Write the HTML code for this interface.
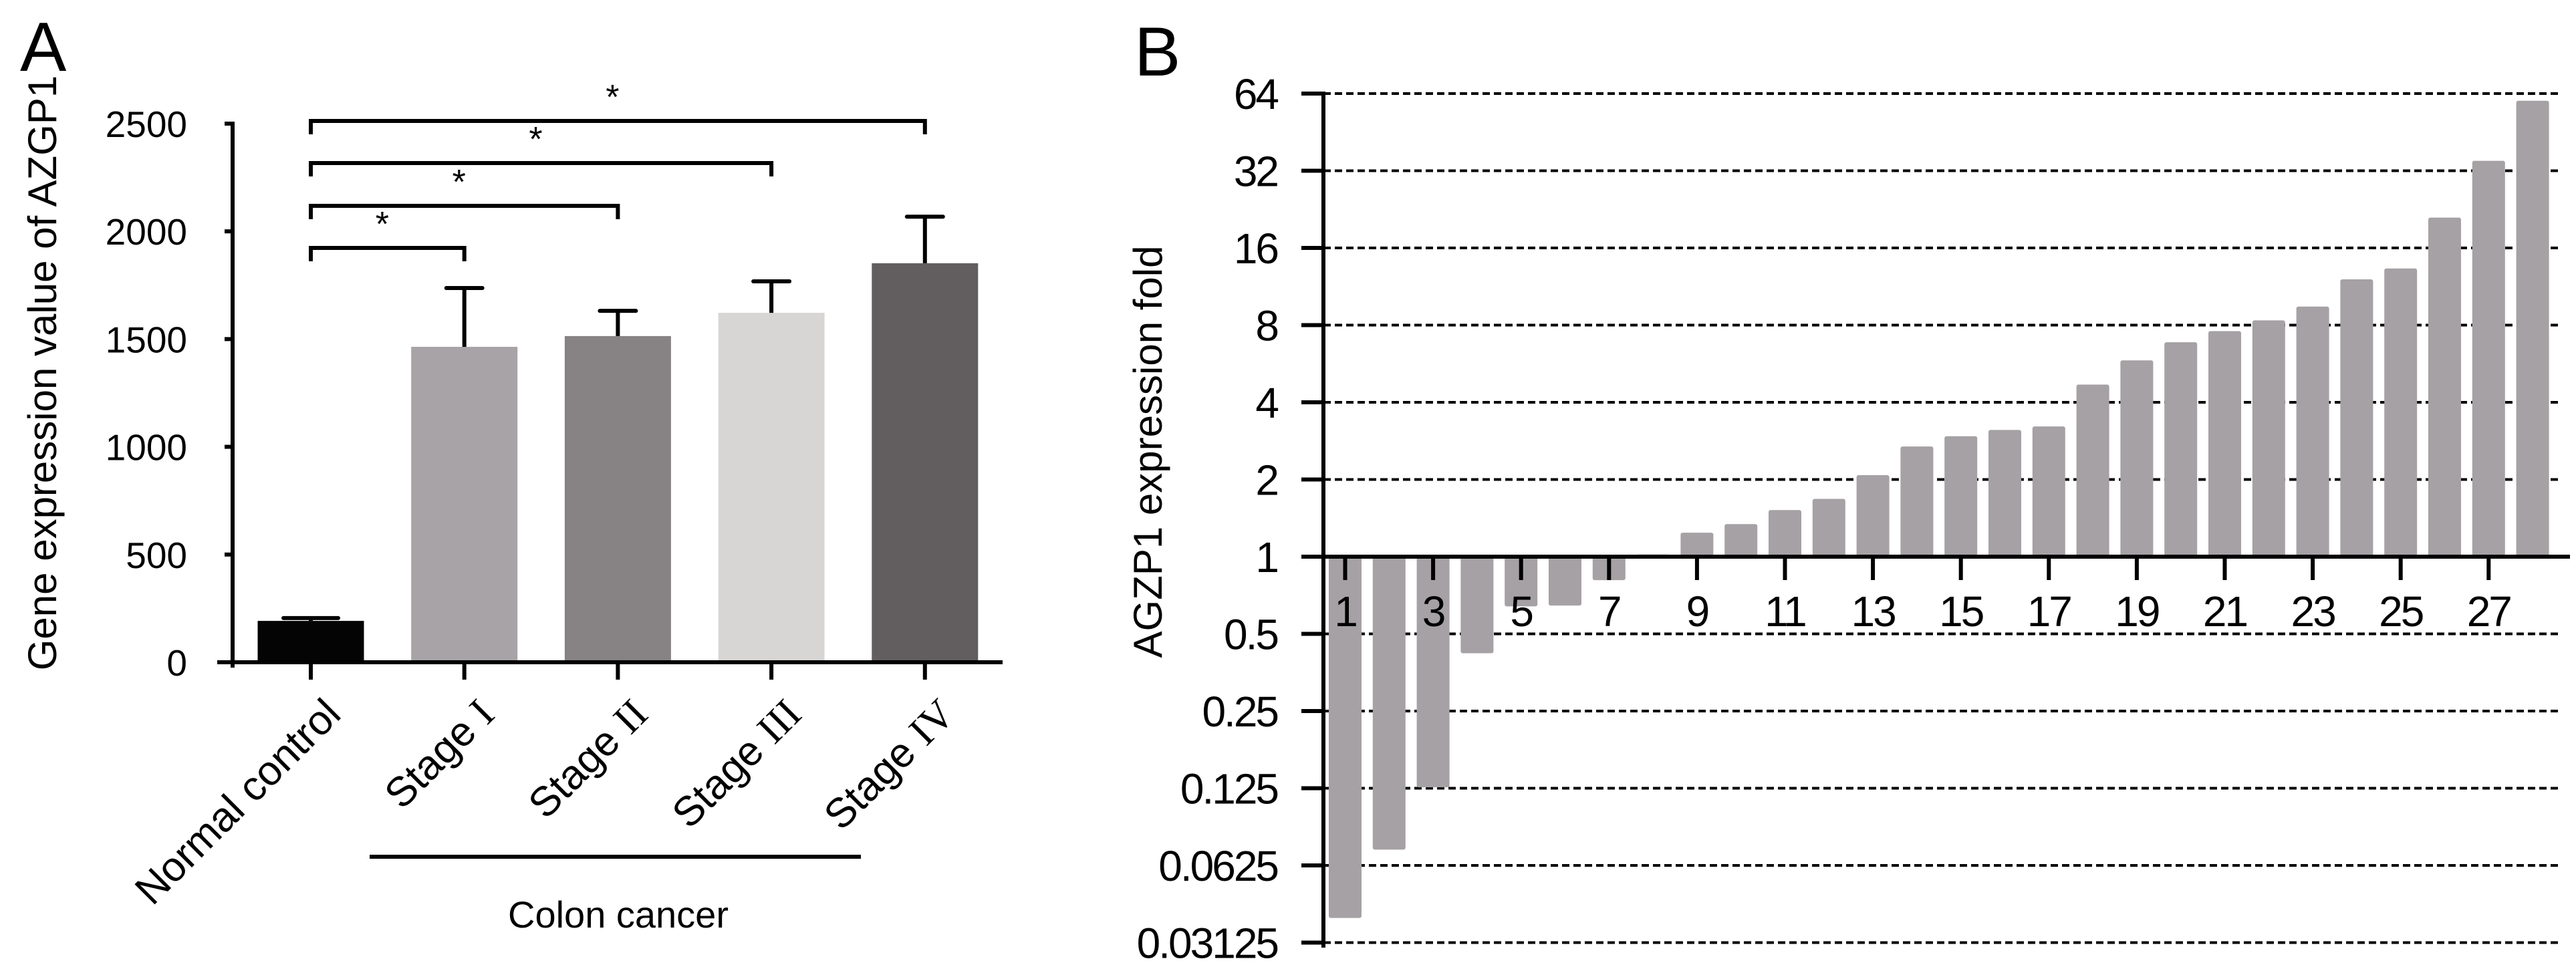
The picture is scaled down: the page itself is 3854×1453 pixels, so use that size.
<!DOCTYPE html>
<html><head><meta charset="utf-8"><style>
html,body{margin:0;padding:0;background:#fff;}
svg{display:block;font-family:"Liberation Sans",sans-serif;}
</style></head><body>
<svg id="fig" width="3854" height="1453" viewBox="0 0 3854 1453" xmlns="http://www.w3.org/2000/svg">
<text x="30" y="106" font-size="104">A</text>
<text x="1697" y="113" font-size="104">B</text>
<g id="pa"></g>
<g id="pb"></g>
</svg>
<script>
// ---------- Panel A data ----------
const catsA = ["Normal control", "Stage I", "Stage II", "Stage III", "Stage IV"];
const meanA = [192, 1464, 1514, 1622, 1852];
const errA = [205, 1737, 1631, 1768, 2068];
const colorsA = ["#050405", "#a8a3a7", "#878284", "#d8d5d5", "#625e60"];
const ticksA = [0, 500, 1000, 1500, 2000, 2500];
const tickLabelsA = ["0", "500", "1000", "1500", "2000", "2500"];
const romanA = ["", "I", "II", "III", "IV"];
const sigPairsA = [[0,1],[0,2],[0,3],[0,4]];
// ---------- Panel B data ----------
const samplesB = [1,2,3,4,5,6,7,8,9,10,11,12,13,14,15,16,17,18,19,20,21,22,23,24,25,26,27,28];
const foldB = [0.039,0.072,0.126,0.42,0.64,0.645,0.81,1.02,1.24,1.34,1.52,1.68,2.08,2.69,2.95,3.12,3.22,4.69,5.83,6.86,7.58,8.35,9.45,12.07,13.3,21,35,60];
const ticksB = [0.03125,0.0625,0.125,0.25,0.5,1,2,4,8,16,32,64];
const tickLabelsB = ["0.03125","0.0625","0.125","0.25","0.5","1","2","4","8","16","32","64"];

const NS = "http://www.w3.org/2000/svg";
function mk(parent, tag, attrs, txt){
  const e = document.createElementNS(NS, tag);
  for (const k in attrs) e.setAttribute(k, attrs[k]);
  if (txt !== undefined) e.textContent = txt;
  parent.appendChild(e);
  return e;
}

// ===== Panel A =====
(function(){
  const g = document.getElementById('pa');
  const y0 = 991, y2500 = 185, axX = 348;
  const yA = v => y0 - (v/2500)*(y0 - y2500);
  const xA = i => 465 + i*229.7;
  const bw = 159;
  catsA.forEach((c,i)=>{
    const r = mk(g,'rect',{x:xA(i)-bw/2, y:yA(meanA[i]), width:bw, height:y0-yA(meanA[i]), fill:colorsA[i]});
    
    
    const hw = i===0 ? 41 : 27;
    const e1 = mk(g,'line',{x1:xA(i), x2:xA(i), y1:yA(meanA[i]), y2:yA(errA[i]), stroke:'#000','stroke-width':6});
    
    
    const e2 = mk(g,'line',{x1:xA(i)-hw, x2:xA(i)+hw, y1:yA(errA[i]), y2:yA(errA[i]), stroke:'#000','stroke-width':6,'stroke-linecap':'round'});
    
    
    const t = mk(g,'line',{x1:xA(i), x2:xA(i), y1:y0, y2:1017, stroke:'#000','stroke-width':6});
    
    
    const lx = xA(i)+48, ly = 1072;
    const tx = mk(g,'text',{x:lx, y:ly, 'font-size':62, 'text-anchor':'end', transform:`rotate(-45 ${lx} ${ly})`});
    
    
    if (i===0) { tx.textContent = c; }
    else {
      mk(tx,'tspan',{}, 'Stage ');
      mk(tx,'tspan',{'font-family':'"Liberation Serif", serif'}, romanA[i]);
    }
  });
  const ya = mk(g,'line',{x1:axX, x2:axX, y1:y2500-3, y2:y0+8, stroke:'#000','stroke-width':6});
  
  
  const xa = mk(g,'line',{x1:325, x2:1500, y1:y0, y2:y0, stroke:'#000','stroke-width':6});
  
  
  ticksA.forEach((v,i)=>{
    const tl = mk(g,'line',{x1:axX-12, x2:axX, y1:yA(v), y2:yA(v), stroke:'#000','stroke-width':6});
    
    
    const tt = mk(g,'text',{x:280, y:yA(v)+20, 'font-size':55, 'text-anchor':'end'}, tickLabelsA[i]);
    
    
  });
  const bY = [371, 308, 244, 181];
  sigPairsA.forEach((p,k)=>{
    const x1 = xA(p[0]), x2 = xA(p[1]), yb = bY[k];
    const b = mk(g,'path',{d:`M${x1} ${yb+20} V${yb} H${x2} V${yb+20}`, fill:'none', stroke:'#000','stroke-width':6});
    
    
    const s = mk(g,'text',{x:(x1+x2)/2-8, y:yb-18, 'font-size':52, 'text-anchor':'middle'}, '*');
    
    
  });
  const yt = mk(g,'text',{x:0, y:0, 'font-size':60, 'text-anchor':'middle', transform:'translate(84 558) rotate(-90)'}, 'Gene expression value of AZGP1');
  
  
  const gl = mk(g,'line',{x1:553, x2:1288, y1:1282, y2:1282, stroke:'#000','stroke-width':6});
  
  
  const gt = mk(g,'text',{x:925, y:1388, 'font-size':56, 'text-anchor':'middle'}, 'Colon cancer');
  
  
})();

// ===== Panel B =====
(function(){
  const g = document.getElementById('pb');
  const axX = 1980, y1 = 833, unit = 115.5, xEnd = 3828;
  const yB = v => y1 - Math.log2(v)*unit;
  const xB = i => 1988 + i*65.8;
  const bw = 49;
  ticksB.forEach((v,i)=>{
    if (v !== 1) {
      const gl = mk(g,'line',{x1:axX, x2:xEnd, y1:yB(v), y2:yB(v), stroke:'#000','stroke-width':4,'stroke-dasharray':'11 6'});
      
      
    }
    const tl = mk(g,'line',{x1:1947, x2:axX, y1:yB(v), y2:yB(v), stroke:'#000','stroke-width':6});
    
    
    const tt = mk(g,'text',{x:1911, y:yB(v)+23, 'font-size':64, 'text-anchor':'end', 'letter-spacing':'-3'}, tickLabelsB[i]);
    
    
  });
  samplesB.forEach((s,i)=>{
    const v = foldB[i];
    const top = Math.min(yB(v), y1), bot = Math.max(yB(v), y1);
    const r = mk(g,'rect',{x:xB(i), y:top, width:bw, height:Math.max(bot-top,1), rx:3, fill:'#a5a1a4'});
    
    
  });
  const bl = mk(g,'line',{x1:axX, x2:3845, y1:y1, y2:y1, stroke:'#000','stroke-width':6});
  
  
  samplesB.forEach((s,i)=>{
    if (s % 2 === 1) {
      const cx = xB(i)+bw/2;
      const t = mk(g,'line',{x1:cx, x2:cx, y1:y1, y2:868, stroke:'#000','stroke-width':6});
      
      
      const tt = mk(g,'text',{x:cx, y:937, 'font-size':64, 'text-anchor':'middle', 'letter-spacing':'-3'}, String(s));
      
      
    }
  });
  const ya = mk(g,'line',{x1:axX, x2:axX, y1:137, y2:1418, stroke:'#000','stroke-width':6});
  
  
  const yt = mk(g,'text',{x:0, y:0, 'font-size':60, 'text-anchor':'middle', transform:'translate(1738 676) rotate(-90)'}, 'AGZP1 expression fold');
  
  
})();
</script>
</body></html>
